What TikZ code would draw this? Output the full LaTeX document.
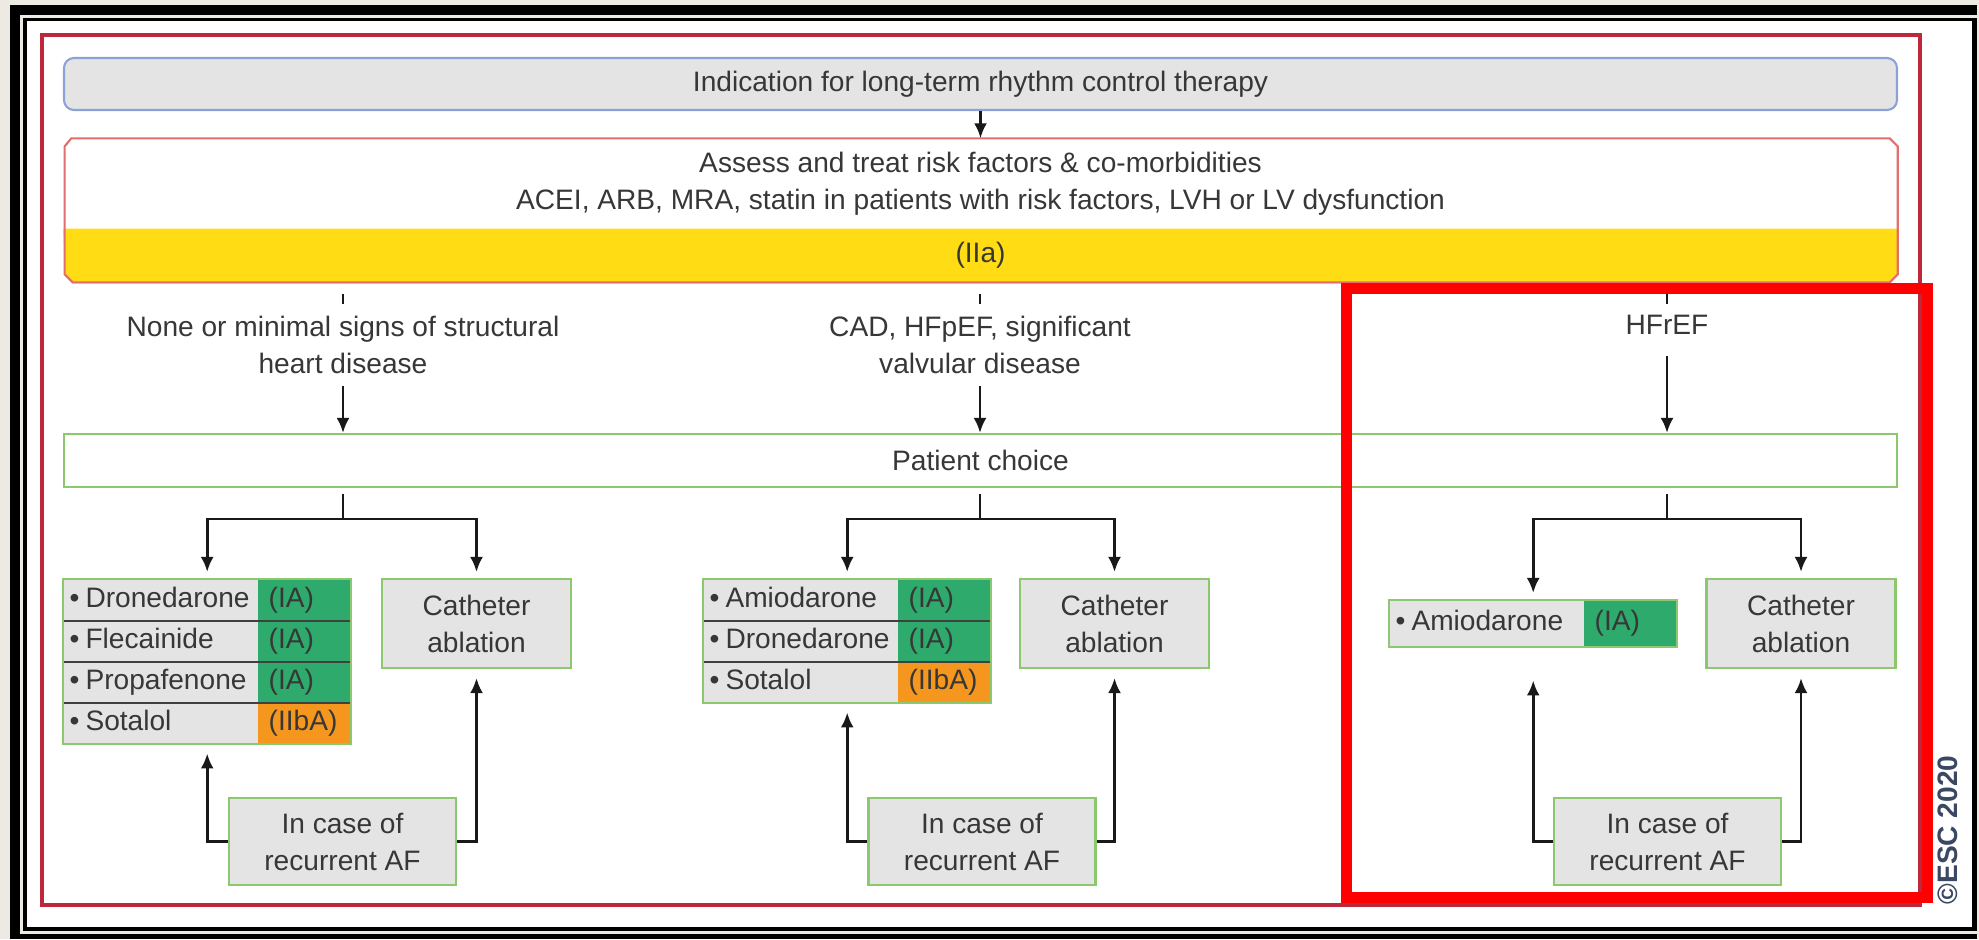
\documentclass[tikz,border=0pt]{standalone}
\usepackage{fontspec}
\setmainfont{Liberation Sans}
\usetikzlibrary{arrows.meta,fit}

\definecolor{pagebeige}{RGB}{236,234,226}
\definecolor{framered}{RGB}{190,40,60}
\definecolor{markred}{RGB}{255,0,0}
\definecolor{cellgray}{RGB}{228,228,228}
\definecolor{blueline}{RGB}{140,162,214}
\definecolor{riskred}{RGB}{226,110,110}
\definecolor{iiayellow}{RGB}{255,220,20}
\definecolor{boxgreen}{RGB}{140,200,110}
\definecolor{iagreen}{RGB}{46,170,108}
\definecolor{iibaorange}{RGB}{245,150,30}
\definecolor{txtgray}{RGB}{55,55,55}
\definecolor{escblue}{RGB}{58,72,100}

\newcommand{\drugitem}[1]{\textbullet\hspace{0.6mm}#1}

\begin{document}
\begin{tikzpicture}[x=0.1mm, y=-0.1mm,
	every node/.style={font=\fontsize{8}{10.5}\selectfont, text=txtgray},
	>={Latex[length=1.5mm, width=1.3mm]},
	arr/.style={->, line width=0.8pt, draw=black!90},
	stub/.style={line width=0.8pt, draw=black!90},
	topbox/.style={draw=blueline, line width=0.6pt, fill=cellgray, rounded corners=1mm, minimum width=183.3mm, minimum height=5.2mm},
	choicebox/.style={draw=boxgreen, line width=0.6pt, fill=white, minimum width=183.3mm, minimum height=5.3mm},
	greybox/.style={draw=boxgreen, line width=0.6pt, fill=cellgray, align=center, minimum width=18.9mm},
	drugcell/.style={fill=cellgray, anchor=north west, text width=18.2mm, inner xsep=0.6mm, inner ysep=0pt, text height=6pt, text depth=2pt, minimum height=4.1mm, align=left},
	gradecell/.style={anchor=north west, text width=7.1mm, inner xsep=1.1mm, inner ysep=0pt, text height=6pt, text depth=2pt, minimum height=4.1mm, align=left},
	rowline/.style={draw=black!75, line width=0.6pt},
	tableframe/.style={draw=boxgreen, line width=0.6pt, inner sep=0pt}]
	% page and frames
	\fill[pagebeige] (0,0) rectangle (1979,939);
	\fill[black] (10,5) rectangle (1977,939);
	\fill[pagebeige] (20,15) rectangle (1977,934);
	\fill[black] (23,18) rectangle (1977,931);
	\fill[white] (27,21) rectangle (1972,927);
	\draw[framered, line width=0.45mm] (42,35) rectangle (1920,905);

	% top of the chart
	\node[topbox] (indication) at (980.5,84) {Indication for long-term rhythm control therapy};
	\node[minimum width=183.3mm, minimum height=8.9mm, align=center] (assess) at (980.5,183.5) {Assess and treat risk factors \& co-morbidities\\ACEI, ARB, MRA, statin in patients with risk factors, LVH or LV dysfunction};
	\fill[iiayellow] (assess.south west) -- (assess.south east) -- ++(0,47) -- ++(-8,8) -- ++(-1817,0) -- ++(-8,-8) -- cycle;
	\node[minimum height=5.5mm] (iia) at (980.5,255.5) {(IIa)};
	\draw[riskred, line width=0.6pt] ([xshift=0.8mm]assess.north west) -- ([xshift=-0.8mm]assess.north east) -- ++(8,8) -- ++(0,128) -- ++(-8,8) -- ++(-1817,0) -- ++(-8,-8) -- ++(0,-128) -- cycle;
	\draw[arr] (indication) -- (assess);

	% the three groups
	\node[align=center] (lab1) at (343,345) {None or minimal signs of structural\\heart disease};
	\node[align=center] (lab2) at (980,345) {CAD, HFpEF, significant\\valvular disease};
	\node (lab3) at (1667,325) {HFrEF};
	\draw[stub] (lab1 |- iia.south) ++(0,10) -- ++(0,10);
	\draw[stub] (lab2 |- iia.south) ++(0,10) -- ++(0,10);
	\draw[stub] (lab3 |- iia.south) ++(0,10) -- ++(0,10);

	\node[choicebox] (choice) at (980.5,460.5) {Patient choice};
	\draw[arr] (lab1) -- (lab1 |- choice.north);
	\draw[arr] (lab2) -- (lab2 |- choice.north);
	\draw[arr, shorten <=0.9mm] (lab3) -- (lab3 |- choice.north);

	% drugs, left
	\node[drugcell] (dro1) at (63,579) {\drugitem{Dronedarone}};
	\node[gradecell, fill=iagreen] (dro1g) at (257,579) {(IA)};
	\node[drugcell] (fle1) at (63,620) {\drugitem{Flecainide}};
	\node[gradecell, fill=iagreen] (fle1g) at (257,620) {(IA)};
	\node[drugcell] (pro1) at (63,661) {\drugitem{Propafenone}};
	\node[gradecell, fill=iagreen] (pro1g) at (257,661) {(IA)};
	\node[drugcell] (sot1) at (63,702) {\drugitem{Sotalol}};
	\node[gradecell, fill=iibaorange] (sot1g) at (257,702) {(IIbA)};
	\draw[rowline] (dro1.south west) -- (dro1g.south east);
	\draw[rowline] (fle1.south west) -- (fle1g.south east);
	\draw[rowline] (pro1.south west) -- (pro1g.south east);
	\node[tableframe, fit=(dro1)(sot1g)] (tab1) {};

	% drugs, middle
	\node[drugcell] (ami2) at (703,579) {\drugitem{Amiodarone}};
	\node[gradecell, fill=iagreen] (ami2g) at (897,579) {(IA)};
	\node[drugcell] (dro2) at (703,620) {\drugitem{Dronedarone}};
	\node[gradecell, fill=iagreen] (dro2g) at (897,620) {(IA)};
	\node[drugcell] (sot2) at (703,661) {\drugitem{Sotalol}};
	\node[gradecell, fill=iibaorange] (sot2g) at (897,661) {(IIbA)};
	\draw[rowline] (ami2.south west) -- (ami2g.south east);
	\draw[rowline] (dro2.south west) -- (dro2g.south east);
	\node[tableframe, fit=(ami2)(sot2g)] (tab2) {};

	% drugs, right
	\node[drugcell, minimum height=4.6mm] (ami3) at (1389,600) {\drugitem{Amiodarone}};
	\node[gradecell, fill=iagreen, minimum height=4.6mm] (ami3g) at (1583,600) {(IA)};
	\node[tableframe, fit=(ami3)(ami3g)] (tab3) {};

	\node[greybox, minimum height=8.9mm] (cath1) at (476.5,623.5) {Catheter\\ablation};
	\node[greybox, minimum height=8.9mm] (cath2) at (1114.5,623.5) {Catheter\\ablation};
	\node[greybox, minimum height=8.9mm] (cath3) at (1801,623.5) {Catheter\\ablation};

	\draw[stub] (choice.south -| lab1) ++(0,6) -- ++(0,25) coordinate (fork1);
	\draw[arr, shorten >=0.6mm] (fork1) -| (tab1.north);
	\draw[arr, shorten >=0.6mm] (fork1) -| (cath1.north);
	\draw[stub] (choice.south -| lab2) ++(0,6) -- ++(0,25) coordinate (fork2);
	\draw[arr, shorten >=0.6mm] (fork2) -| (tab2.north);
	\draw[arr, shorten >=0.6mm] (fork2) -| (cath2.north);
	\draw[stub] (choice.south -| lab3) ++(0,6) -- ++(0,25) coordinate (fork3);
	\draw[arr, shorten >=0.6mm] (fork3) -| (tab3.north);
	\draw[arr, shorten >=0.6mm] (fork3) -| (cath3.north);

	% recurrence loops
	\node[greybox, minimum width=22.7mm, minimum height=8.7mm] (rec1) at (342.5,841.5) {In case of\\recurrent AF};
	\node[greybox, minimum width=22.7mm, minimum height=8.7mm] (rec2) at (982,841.5) {In case of\\recurrent AF};
	\node[greybox, minimum width=22.7mm, minimum height=8.7mm] (rec3) at (1667.5,841.5) {In case of\\recurrent AF};
	\draw[arr, shorten >=0.8mm] (rec1.west) -| (tab1.south);
	\draw[arr, shorten >=0.9mm] (rec1.east) -| (cath1.south);
	\draw[arr, shorten >=0.8mm] (rec2.west) -| (tab2.south);
	\draw[arr, shorten >=0.9mm] (rec2.east) -| (cath2.south);
	\draw[arr, shorten >=3.2mm] (rec3.west) -| (tab3.south);
	\draw[arr, shorten >=0.9mm] (rec3.east) -| (cath3.south);

	% highlight and credit
	\draw[markred, line width=1.1mm] (1346.5,288) rectangle (1927.5,897);
	\node[rotate=90, font=\fontsize{8}{9}\selectfont\bfseries, text=escblue] (esc) at (1948,830) {\textcopyright ESC 2020};
\end{tikzpicture}
\end{document}
